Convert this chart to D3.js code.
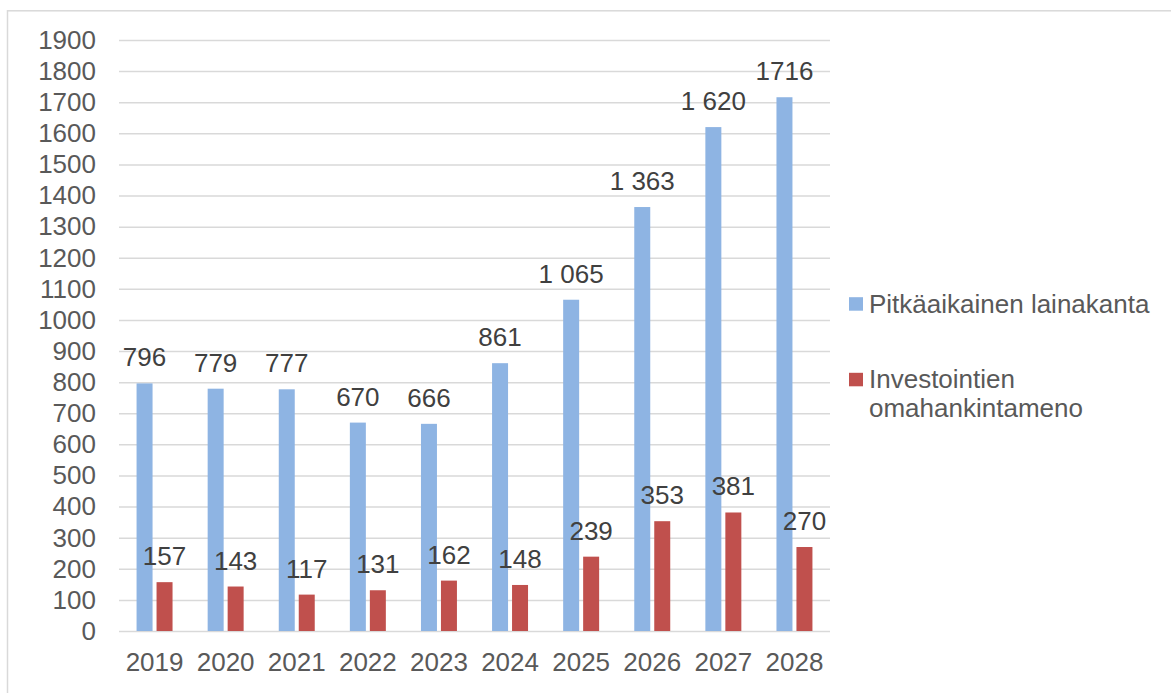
<!DOCTYPE html>
<html lang="fi">

<head>
    <meta charset="UTF-8">
    <title>Pitkäaikainen lainakanta</title>
    <script src="https://d3js.org/d3.v7.min.js"></script>
    <style>
        body {
            margin: 0;
            background: #fff;
            font-family: "Liberation Sans", Arial, sans-serif;
        }
    </style>
</head>

<body>
    <div id="chart"></div>
    <script>
        // data
        const years = ["2019", "2020", "2021", "2022", "2023", "2024", "2025", "2026", "2027", "2028"];
        const seriesNames = ["Pitkäaikainen lainakanta", "Investointien omahankintameno"];
        const lainakanta = [796, 779, 777, 670, 666, 861, 1065, 1363, 1620, 1716];
        const omahankinta = [157, 143, 117, 131, 162, 148, 239, 353, 381, 270];
        const lainakantaLabels = ["796", "779", "777", "670", "666", "861", "1 065", "1 363", "1 620", "1716"];
        const omahankintaLabels = ["157", "143", "117", "131", "162", "148", "239", "353", "381", "270"];
        const yTicks = d3.range(0, 2000, 100);
        const colors = ["#8eb4e3", "#c0504d"];

        const W = 1171, H = 693;
        const plot = { left: 119, right: 830, top: 40, bottom: 631 };

        const svg = d3.select("#chart").append("svg")
            .attr("width", W)
            .attr("height", H)
            .style("font-family", "'Liberation Sans', Arial, sans-serif");

        // chart frame (only top and left edges are inside the picture)
        svg.append("rect")
            .attr("x", 7.5).attr("y", 10.8)
            .attr("width", W + 10).attr("height", H + 10)
            .attr("fill", "none")
            .attr("stroke", "#d9d9d9")
            .attr("stroke-width", 1.5);

        const x0 = d3.scaleBand().domain(years).range([plot.left, plot.right]).paddingInner(0.494).paddingOuter(0.247);
        const x1 = d3.scaleBand().domain([0, 1]).range([0, x0.bandwidth()]).paddingInner(0.2);
        const y = d3.scaleLinear().domain([0, 1900]).range([plot.bottom, plot.top]);

        // gridlines + y labels
        const yAxis = svg.append("g")
            .attr("transform", `translate(${plot.left},0)`)
            .call(d3.axisLeft(y).tickValues(yTicks).tickSize(-(plot.right - plot.left)).tickPadding(23).tickFormat(d3.format("d")));
        yAxis.select(".domain").remove();
        yAxis.selectAll(".tick line").attr("stroke", "#d9d9d9").attr("stroke-width", 1.5);
        yAxis.selectAll(".tick text")
            .attr("fill", "#595959")
            .style("font-size", "26px")
            .style("font-family", "'Liberation Sans', Arial, sans-serif");

        // x labels
        const xAxis = svg.append("g")
            .attr("transform", `translate(0,${plot.bottom})`)
            .call(d3.axisBottom(x0).tickSize(0).tickPadding(22));
        xAxis.select(".domain").remove();
        xAxis.selectAll(".tick text")
            .attr("fill", "#595959")
            .style("font-size", "26px")
            .style("font-family", "'Liberation Sans', Arial, sans-serif");

        const series = [
            { values: lainakanta, labels: lainakantaLabels },
            { values: omahankinta, labels: omahankintaLabels }
        ];

        series.forEach((s, si) => {
            const g = svg.append("g");
            g.selectAll("rect")
                .data(years)
                .join("rect")
                .attr("x", (d) => x0(d) + x1(si))
                .attr("y", (d, i) => y(s.values[i]))
                .attr("width", x1.bandwidth())
                .attr("height", (d, i) => y(0) - y(s.values[i]))
                .attr("fill", colors[si]);

            g.selectAll("text")
                .data(years)
                .join("text")
                .attr("x", (d) => x0(d) + x1(si) + x1.bandwidth() / 2)
                .attr("y", (d, i) => y(s.values[i]) - 17)
                .attr("text-anchor", "middle")
                .attr("fill", "#404040")
                .style("font-size", "26px")
                .text((d, i) => s.labels[i]);
        });

        // legend
        const legendX = 849;
        const legend = [
            { name: ["Pitkäaikainen lainakanta"], base: 312.7 },
            { name: ["Investointien", "omahankintameno"], base: 388.3 }
        ];
        legend.forEach((item, i) => {
            svg.append("rect")
                .attr("x", legendX)
                .attr("y", item.base - 15.5)
                .attr("width", 14)
                .attr("height", 13.5)
                .attr("fill", colors[i]);
            const t = svg.append("text")
                .attr("x", legendX + 20)
                .attr("y", item.base)
                .attr("fill", "#595959")
                .style("font-size", "26px");
            item.name.forEach((line, li) => {
                t.append("tspan")
                    .attr("x", legendX + 20)
                    .attr("y", item.base + li * 28.5)
                    .text(line);
            });
        });
    </script>
</body>

</html>
